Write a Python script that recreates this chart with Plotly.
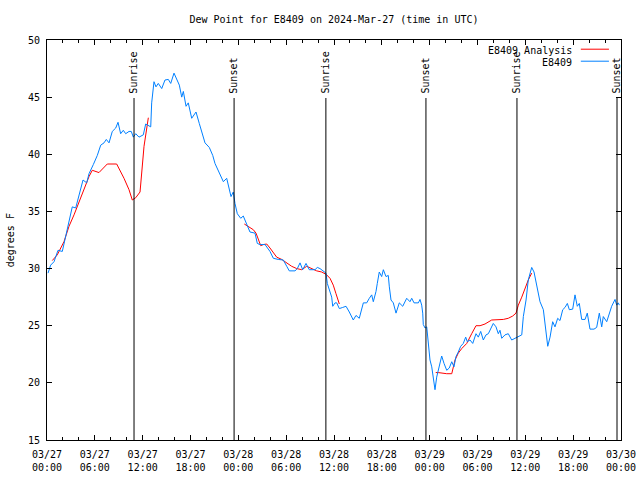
import pandas as pd
import plotly.graph_objects as go

# ---- data (hours after 2024-03-27 00:00 UTC, dew point in F) ----
obs_hours = [0.13, 0.46, 0.88, 1.38, 1.92, 2.35, 2.76, 3.17, 3.60, 4.01, 4.52, 4.98, 5.27, 5.81,
             6.31, 6.74, 7.15, 7.44, 7.78, 8.19, 8.62, 8.91, 9.24, 9.57, 9.87, 10.29, 10.57, 10.83,
             11.13, 11.54, 12.08, 12.38, 12.71, 13.01, 13.13, 13.26, 13.42, 13.67, 13.96, 14.39,
             14.80, 15.22, 15.52, 15.93, 16.27, 16.60, 16.90, 17.10, 17.44, 17.72, 18.15, 18.69,
             19.10, 19.41, 19.82, 20.36, 20.79, 21.07, 21.49, 21.79, 22.12, 22.54, 22.87, 23.08,
             23.37, 23.58, 23.87, 24.30, 24.62, 24.96, 25.46, 26.09, 26.38, 26.72, 27.35, 27.97,
             28.39, 29.01, 29.64, 30.07, 30.39, 31.11, 31.40, 31.74, 32.07, 32.49, 32.90, 33.62,
             33.91, 34.24, 34.66, 35.00, 35.16, 35.41, 35.71, 35.84, 36.13, 36.34, 36.67, 37.09,
             37.51, 37.92, 38.42, 38.76, 39.17, 39.68, 40.10, 40.43, 40.73, 40.93, 41.27, 41.43,
             41.68, 41.98, 42.19, 42.52, 42.81, 42.94, 43.15, 43.44, 43.78, 44.19, 44.62, 45.12,
             45.53, 45.75, 46.04, 46.58, 46.79, 47.00, 47.13, 47.20, 47.42, 47.63, 47.83, 48.04,
             48.26, 48.46, 48.67, 48.88, 49.08, 49.30, 49.51, 49.80, 50.14, 50.46, 50.77, 51.05,
             51.30, 51.59, 51.89, 52.22, 52.52, 52.72, 53.06, 53.40, 53.81, 54.10, 54.40, 54.73,
             55.07, 55.36, 55.66, 55.98, 56.32, 56.61, 56.82, 57.04, 57.45, 57.86, 58.29, 58.71,
             59.12, 59.55, 59.75, 60.09, 60.37, 60.59, 60.80, 61.09, 61.43, 61.84, 62.26, 62.59,
             62.81, 63.10, 63.43, 63.72, 64.06, 64.35, 64.69, 64.98, 65.27, 65.52, 65.94, 66.23,
             66.52, 66.77, 67.07, 67.49, 67.77, 68.11, 68.61, 68.95, 69.28, 69.58, 69.78, 70.21,
             70.53, 70.83, 71.25, 71.46, 71.66, 71.79]
obs_dewpoint = [29.6, 30.3, 30.6, 31.6, 31.5, 32.8, 34.0, 35.4, 35.3, 36.4, 37.75, 37.5, 38.3, 39.1,
                39.9, 40.8, 41.0, 41.3, 41.0, 42.0, 42.3, 42.8, 41.8, 42.1, 41.8, 42.0, 42.0, 41.5,
                41.8, 41.5, 41.7, 42.65, 42.5, 42.4, 44.5, 45.6, 46.35, 45.9, 46.2, 45.75,
                46.5, 46.55, 46.2, 47.1, 46.5, 46.05, 45.0, 45.5, 44.2, 44.5, 43.15, 43.7,
                42.7, 42.0, 41.0, 40.6, 39.9, 39.2, 38.6, 38.2, 37.6, 37.9, 37.0, 36.3,
                36.7, 35.7, 34.8, 34.4, 34.6, 34.0, 33.2, 33.1, 32.2, 32.1, 32.1, 31.5,
                30.9, 30.8, 30.75, 30.2, 29.8, 29.8, 30.0, 30.5, 29.9, 30.45, 29.9, 29.9,
                30.1, 30.0, 29.8, 29.6, 28.7, 28.1, 27.5, 26.7, 27.0, 27.0, 26.5, 26.6,
                26.7, 26.2, 25.5, 25.9, 25.65, 27.0, 27.0, 27.4, 27.7, 27.1, 28.0, 28.7,
                29.7, 29.3, 29.9, 29.3, 29.4, 28.4, 27.25, 27.0, 26.1, 27.0, 26.7, 27.4,
                27.1, 27.4, 27.0, 27.0, 27.3, 26.8, 26.1, 25.1, 24.8, 24.9, 23.3, 22.0,
                21.4, 20.5, 19.4, 20.5, 21.1, 21.7, 22.35, 21.7, 21.1, 21.3, 21.85, 21.4,
                22.3, 22.7, 23.2, 23.45, 24.0, 23.6, 23.75, 23.45, 24.3, 24.0, 24.5, 23.75,
                24.2, 24.3, 24.8, 25.2, 24.9, 24.3, 24.6, 23.9, 24.2, 24.3, 23.75, 23.9,
                24.0, 24.2, 25.8, 27.25, 29.0, 29.7, 30.1, 29.7, 28.4, 27.1, 26.4, 24.6,
                23.2, 24.0, 25.35, 24.9, 25.65, 25.45, 26.4, 26.6, 26.95, 26.4, 26.45, 27.7,
                26.7, 26.95, 25.55, 25.55, 26.1, 24.7, 24.7, 24.85, 26.1, 24.9, 25.8, 25.35,
                26.1, 26.7, 27.3, 26.8, 27.0, 26.8]

ana_hours = [0.66, 1.29, 2.13, 2.76, 3.39, 4.01, 4.64, 5.27, 5.68, 6.52, 7.56, 8.74, 9.66, 10.29,
             10.70, 11.13, 11.67, 11.95, 12.17, 12.71, 18.0,
             24.75, 25.46, 25.88, 26.22, 26.51, 26.81, 27.13, 27.56, 27.97, 28.39, 28.81, 29.44,
             30.07, 30.69, 31.32, 31.95, 32.58, 33.20, 33.83, 34.46, 35.00, 35.50, 35.91, 36.25,
             36.67, 42.0,
             48.76, 49.08, 50.14, 50.77, 51.18, 51.59, 52.02, 52.65, 53.27, 53.81, 54.32, 54.94,
             55.78, 56.61, 57.24, 57.86, 58.42, 58.83, 59.12, 59.55, 59.96, 60.37, 60.80]
ana_dewpoint = [30.7, 31.2, 32.35, 33.7, 34.7, 35.85, 36.9, 38.05, 38.6, 38.4, 39.15, 39.15, 37.9, 36.9,
                36.0, 36.2, 36.7, 38.6, 40.7, 43.2, None,
                33.9, 33.6, 33.4, 33.1, 32.5, 32.0, 32.1, 32.15, 31.8, 31.4, 31.0, 30.8,
                30.5, 30.2, 30.0, 29.9, 30.2, 30.0, 29.8, 29.7, 29.5, 29.15, 28.55, 27.8,
                26.9, None,
                20.9, 20.9, 20.8, 20.8, 22.0, 22.6, 23.0, 23.45, 24.3, 25.0, 25.0, 25.15,
                25.5, 25.5, 25.55, 25.65, 25.85, 26.1, 26.8, 27.5, 28.3, 29.0, 29.6]

event_times = ["2024-03-27 10:55", "2024-03-27 23:28", "2024-03-28 10:59",
               "2024-03-28 23:32", "2024-03-29 10:57", "2024-03-29 23:30"]
event_labels = ["Sunrise", "Sunset", "Sunrise", "Sunset", "Sunrise", "Sunset"]

series_names = ["E8409 Analysis", "E8409"]
series_colors = ["#ff0000", "#0080ff"]

base = pd.Timestamp("2024-03-27 00:00")
obs_t = base + pd.to_timedelta(obs_hours, unit="h")
ana_t = base + pd.to_timedelta(ana_hours, unit="h")

FONT = "DejaVu Sans Mono"

fig = go.Figure()
fig.add_trace(go.Scatter(x=ana_t, y=ana_dewpoint, mode="lines", name=series_names[0],
                         line=dict(color=series_colors[0], width=1), connectgaps=False,
                         showlegend=False))
fig.add_trace(go.Scatter(x=obs_t, y=obs_dewpoint, mode="lines", name=series_names[1],
                         line=dict(color=series_colors[1], width=1), showlegend=False))

shapes = []
annotations = []
for t, lab in zip(event_times, event_labels):
    shapes.append(dict(type="line", xref="x", yref="paper", x0=t, x1=t, y0=0, y1=0.855,
                       line=dict(color="black", width=1)))
    annotations.append(dict(x=t, y=0.861, xref="x", yref="paper", text=lab, textangle=-90,
                            showarrow=False, xanchor="center", yanchor="bottom",
                            font=dict(family=FONT, size=10, color="black")))

# legend (text on the left, sample line on the right)
leg_y = [0.975, 0.945]
for name, col, yy in zip(series_names, series_colors, leg_y):
    annotations.append(dict(x=0.918, y=yy, xref="paper", yref="paper", text=name,
                            showarrow=False, xanchor="right", yanchor="middle",
                            font=dict(family=FONT, size=10, color="black")))
    shapes.append(dict(type="line", xref="paper", yref="paper", x0=0.930, x1=0.979,
                       y0=yy + 0.002, y1=yy + 0.002, line=dict(color=col, width=1)))

# y-axis label as rotated annotation
annotations.append(dict(x=-0.064, y=0.5, xref="paper", yref="paper", text="degrees F",
                        textangle=-90, showarrow=False, xanchor="center", yanchor="middle",
                        font=dict(family=FONT, size=10, color="black")))

fig.update_layout(
    width=640, height=480,
    margin=dict(l=47, r=19, t=40, b=40, autoexpand=False),
    paper_bgcolor="white", plot_bgcolor="white",
    font=dict(family=FONT, size=10, color="black"),
    title=dict(text="Dew Point for E8409 on 2024-Mar-27 (time in UTC)", xref="paper", x=0.5,
               xanchor="center", y=0.96, yanchor="middle",
               font=dict(family=FONT, size=10, color="black")),
    shapes=shapes, annotations=annotations,
    showlegend=False,
)
fig.update_xaxes(
    type="date", range=["2024-03-27 00:00", "2024-03-30 00:00"], automargin=False,
    tick0="2024-03-27 00:00", dtick=6 * 3600 * 1000, tickformat="%m/%d<br>%H:%M",
    ticks="inside", ticklen=5, tickcolor="black", showline=True, linecolor="black",
    linewidth=1, mirror="ticks", showgrid=False, zeroline=False,
    minor=dict(dtick=2 * 3600 * 1000, ticks="inside", ticklen=3, tickcolor="black", showgrid=False),
    tickfont=dict(family=FONT, size=10), ticklabelstandoff=5,
)
fig.update_yaxes(
    range=[15, 50], dtick=5, ticks="inside", ticklen=5, tickcolor="black", automargin=False,
    showline=True, linecolor="black", linewidth=1, mirror="ticks", showgrid=False,
    zeroline=False, tickfont=dict(family=FONT, size=10), ticklabelstandoff=4,
)

fig.write_html("out.html", config={"displayModeBar": False},
               post_script="document.body.style.margin='0';")
